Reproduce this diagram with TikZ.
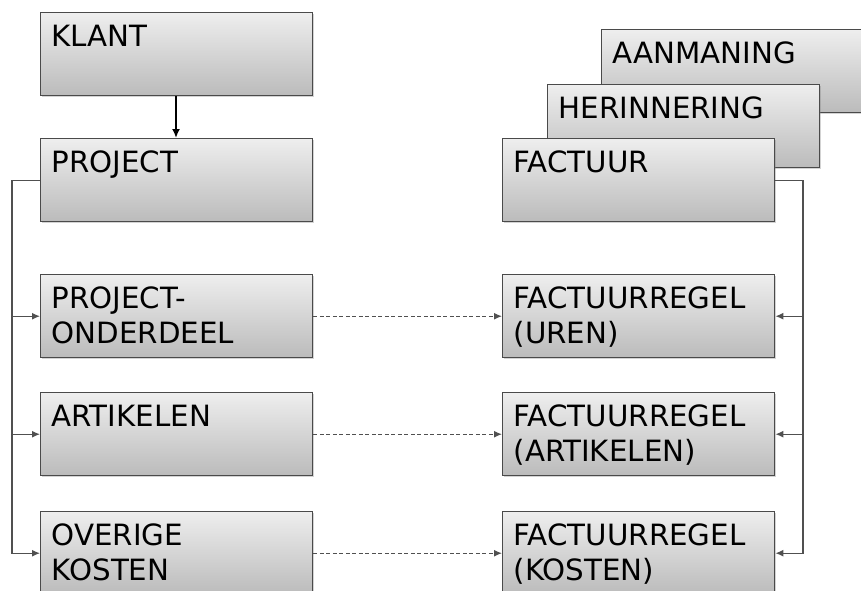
\documentclass[tikz,border=0pt]{standalone}
\usepackage{fontspec}
\setmainfont{DejaVu Sans}
\usetikzlibrary{arrows.meta,shadows}
\definecolor{boxline}{HTML}{4A4A4A}
\definecolor{boxtop}{HTML}{EEEEEE}
\definecolor{boxbot}{HTML}{BBBBBB}
\definecolor{connline}{HTML}{505050}
\begin{document}
\begin{tikzpicture}[x=1pt,y=-1pt,
  ebox/.style={draw=boxline, line width=1.4pt, top color=boxtop, bottom color=boxbot,
    rectangle, anchor=north west, minimum width=272pt, text width=250pt, inner xsep=11pt, inner ysep=0pt,
    text height=34pt, text depth=49pt, align=left,
    font=\fontsize{29.3}{35}\selectfont,
    drop shadow={shadow xshift=0.8pt, shadow yshift=-1.6pt, opacity=0.35}},
  conn/.style={draw=connline, line width=1.3pt},
  tip/.style={-{Latex[length=8pt,width=7pt]}},
  dashconn/.style={draw=connline, line width=1.3pt, dash pattern=on 4pt off 2.5pt, -{Latex[length=8pt,width=7pt]}}
]
\useasboundingbox (0,0) rectangle (861,590);
\clip (0,0) rectangle (861,590);
% left column
\node[ebox] (klant) at (40,12) {KLANT};
\node[ebox] (project) at (40,138) {PROJECT};
\node[ebox] (po) at (40,274) {PROJECT-\\ONDERDEEL};
\node[ebox] (art) at (40,392) {ARTIKELEN};
\node[ebox] (ov) at (40,511) {OVERIGE\\KOSTEN};
% right column (stacked)
\node[ebox] (aan) at (601,29) {AANMANING};
\node[ebox] (her) at (547,84) {HERINNERING};
\node[ebox] (fac) at (502,138) {FACTUUR};
\node[ebox] (fu) at (502,274) {FACTUURREGEL\\(UREN)};
\node[ebox] (fa) at (502,392) {FACTUURREGEL\\(ARTIKELEN)};
\node[ebox] (fk) at (502,511) {FACTUURREGEL\\(KOSTEN)};
% connectors
\coordinate (kx) at (176,0);
\draw[line width=2.2pt, -{Latex[length=9pt,width=8pt]}] (klant.south -| kx) -- (project.north -| kx);
\coordinate (bl) at (12,0);
\coordinate (br) at (803,0);
\draw[conn, tip] (project.west) -- (project.west -| bl) |- (ov.west);
\draw[conn, tip] (po.west -| bl) -- (po.west);
\draw[conn, tip] (art.west -| bl) -- (art.west);
\draw[conn, tip] (fac.east) -- (fac.east -| br) |- (fk.east);
\draw[conn, tip] (fu.east -| br) -- (fu.east);
\draw[conn, tip] (fa.east -| br) -- (fa.east);
\draw[dashconn] (po.east) -- (fu.west);
\draw[dashconn] (art.east) -- (fa.west);
\draw[dashconn] (ov.east) -- (fk.west);
\end{tikzpicture}
\end{document}
